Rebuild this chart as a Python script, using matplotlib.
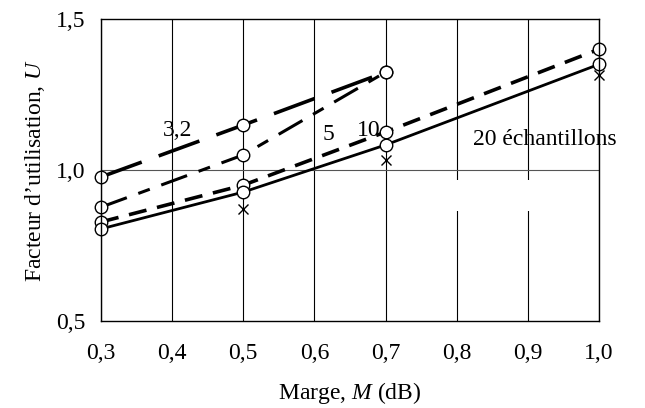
import matplotlib.pyplot as plt
from matplotlib.patches import Rectangle
from matplotlib.ticker import FuncFormatter

plt.rcParams['font.family'] = ['Liberation Serif', 'DejaVu Serif']
plt.rcParams['mathtext.fontset'] = 'custom'
plt.rcParams['mathtext.it'] = 'Liberation Serif:italic'

# data
marge_32 = [0.3, 0.5, 0.7]
u_32 = [0.977, 1.149, 1.324]
marge_5 = [0.3, 0.5, 0.7]
u_5 = [0.877, 1.05, 1.324]
marge_10 = [0.3, 0.5, 0.7, 1.0]
u_10 = [0.828, 0.95, 1.126, 1.40]
marge_20 = [0.3, 0.5, 0.7, 1.0]
u_20 = [0.805, 0.927, 1.083, 1.35]
marge_x = [0.5, 0.7, 1.0]
u_x = [0.87, 1.033, 1.315]

x_ticks = [0.3, 0.4, 0.5, 0.6, 0.7, 0.8, 0.9, 1.0]
y_ticks = [0.5, 1.0, 1.5]

fig = plt.figure(figsize=(6.45, 4.08), dpi=100)
ax = fig.add_axes([0.1566, 0.2132, 0.7721, 0.7402])

mk = dict(marker='o', markersize=9, markerfacecolor='white',
          markeredgecolor='black', markeredgewidth=1.0, color='black',
          clip_on=False)

ax.plot(marge_32, u_32, lw=2.6, dashes=(12, 5), **mk)
ax.plot(marge_5, u_5, lw=2.2, dashes=(9, 4, 4, 4), **mk)
ax.plot(marge_10, u_10, lw=2.6, dashes=(5, 3), **mk)
ax.plot(marge_20, u_20, lw=2.0, **mk)
ax.plot(marge_x, u_x, ls='none', marker='x', color='black', markersize=7,
        mew=1.0, clip_on=False)

ax.text(0.408, 1.13, '3,2', fontsize=17, ha='center', va='center')
ax.text(0.619, 1.116, '5', fontsize=17, ha='center', va='center')
ax.text(0.677, 1.132, '10', fontsize=17, ha='center', va='center')
ax.text(0.924, 1.10, '20 échantillons', fontsize=17, ha='center', va='center')

ax.set_xlim(0.3, 1.0)
ax.set_ylim(0.5, 1.5)
ax.set_xticks(x_ticks)
ax.set_yticks(y_ticks)
fmt = FuncFormatter(lambda v, p: f'{v:.1f}'.replace('.', ','))
ax.xaxis.set_major_formatter(fmt)
ax.yaxis.set_major_formatter(fmt)
ax.tick_params(length=0, labelsize=17)
ax.tick_params(axis='x', pad=16)
ax.tick_params(axis='y', pad=11)

for x in x_ticks:
    ax.axvline(x, color='black', lw=0.8, zorder=0)
ax.axhline(1.0, color='#555555', lw=0.8, zorder=0)
# white gap in the grid below the "20" label (as in the original scan)
ax.add_patch(Rectangle((0.79, 0.864), 0.12, 0.103, facecolor='white',
                       edgecolor='none', zorder=0.5))
for s in ax.spines.values():
    s.set_linewidth(1.0)

ax.set_xlabel('Marge, $M$ (dB)', fontsize=17, labelpad=11)
ax.set_ylabel('Facteur d\u2019utilisation, $U$', fontsize=17, labelpad=7)

fig.savefig('out.png', dpi=100)
